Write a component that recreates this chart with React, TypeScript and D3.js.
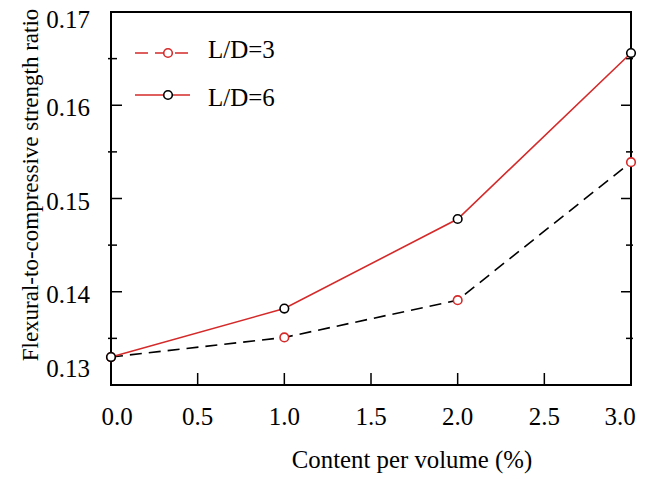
import React from "react";
import * as d3 from "d3";

const contents = [0, 1, 2, 3];
const ld3Values = [0.133, 0.1351, 0.1391, 0.1539];
const ld6Values = [0.133, 0.1382, 0.1478, 0.1656];
const xTicks = [0, 0.5, 1, 1.5, 2, 2.5, 3];
const yTicks = [0.13, 0.14, 0.15, 0.16, 0.17];
const yMinorTicks = [0.135, 0.145, 0.155, 0.165];
const seriesNames = ["L/D=3", "L/D=6"];

const W = 651;
const H = 479;
const M = { left: 111, right: 631, top: 12, bottom: 385 };
const FONT = "'Liberation Serif', 'Times New Roman', serif";
const RED = "#d42a2a";

export default function App() {
  const x = d3.scaleLinear().domain([0, 3]).range([M.left, M.right]);
  const y = d3.scaleLinear().domain([0.13, 0.17]).range([M.bottom, M.top]);
  const line = d3
    .line<number>()
    .x((_, i) => x(contents[i]))
    .y((d) => y(d));

  const clamp = (v: number, lo: number, hi: number) => Math.max(lo, Math.min(hi, v));

  return (
    <svg
      width={W}
      height={H}
      style={{ position: "absolute", left: 0, top: 0, background: "#fff", fontFamily: FONT }}
    >
      {/* y ticks */}
      {yTicks.map((t) => (
        <g key={"y" + t}>
          <line x1={M.left} x2={M.left + 11} y1={y(t)} y2={y(t)} stroke="#000" strokeWidth={1.5} />
          <line x1={M.right} x2={M.right - 10} y1={y(t)} y2={y(t)} stroke="#000" strokeWidth={1.5} />
          <text x={90} y={clamp(y(t) + 11, 28, 377)} textAnchor="end" fontSize={25}>
            {t.toFixed(2)}
          </text>
        </g>
      ))}
      {yMinorTicks.map((t) => (
        <g key={"ym" + t}>
          <line x1={M.left - 3} x2={M.left + 6} y1={y(t)} y2={y(t)} stroke="#000" strokeWidth={1.5} />
          <line x1={M.right + 2} x2={M.right - 5} y1={y(t)} y2={y(t)} stroke="#000" strokeWidth={1.5} />
        </g>
      ))}
      {/* x ticks */}
      {xTicks.map((t) => (
        <g key={"x" + t}>
          <line x1={x(t)} x2={x(t)} y1={M.bottom} y2={M.bottom - 12} stroke="#000" strokeWidth={1.5} />
          <text x={clamp(x(t), M.left + 6, M.right - 11)} y={425} textAnchor="middle" fontSize={25}>
            {t.toFixed(1)}
          </text>
        </g>
      ))}
      {/* frame */}
      <rect
        x={M.left}
        y={M.top}
        width={M.right - M.left}
        height={M.bottom - M.top}
        fill="none"
        stroke="#000"
        strokeWidth={2}
      />
      {/* series */}
      <path d={line(ld3Values) || ""} fill="none" stroke="#000" strokeWidth={1.6} strokeDasharray="12,7" />
      <path d={line(ld6Values) || ""} fill="none" stroke={RED} strokeWidth={1.6} />
      {ld3Values.map((v, i) => (
        <circle key={"a" + i} cx={x(contents[i])} cy={y(v)} r={4.3} fill="#fff" stroke={RED} strokeWidth={1.6} />
      ))}
      {ld6Values.map((v, i) => (
        <circle key={"b" + i} cx={x(contents[i])} cy={y(v)} r={4.3} fill="#fff" stroke="#000" strokeWidth={1.6} />
      ))}
      {/* legend */}
      <g>
        <line x1={135} x2={190} y1={53} y2={53} stroke={RED} strokeWidth={1.6} strokeDasharray="13,7" />
        <circle cx={168} cy={53} r={4.3} fill="#fff" stroke={RED} strokeWidth={1.6} />
        <text x={208} y={58} fontSize={25}>
          {seriesNames[0]}
        </text>
        <line x1={135} x2={190} y1={95} y2={95} stroke={RED} strokeWidth={1.6} />
        <circle cx={168} cy={95} r={4.3} fill="#fff" stroke="#000" strokeWidth={1.6} />
        <text x={208} y={106} fontSize={25}>
          {seriesNames[1]}
        </text>
      </g>
      {/* axis titles */}
      <text x={412} y={468} textAnchor="middle" fontSize={24.8}>
        Content per volume (%)
      </text>
      <text transform="translate(38,185) rotate(-90)" textAnchor="middle" fontSize={23}>
        Flexural-to-compressive strength ratio
      </text>
    </svg>
  );
}
